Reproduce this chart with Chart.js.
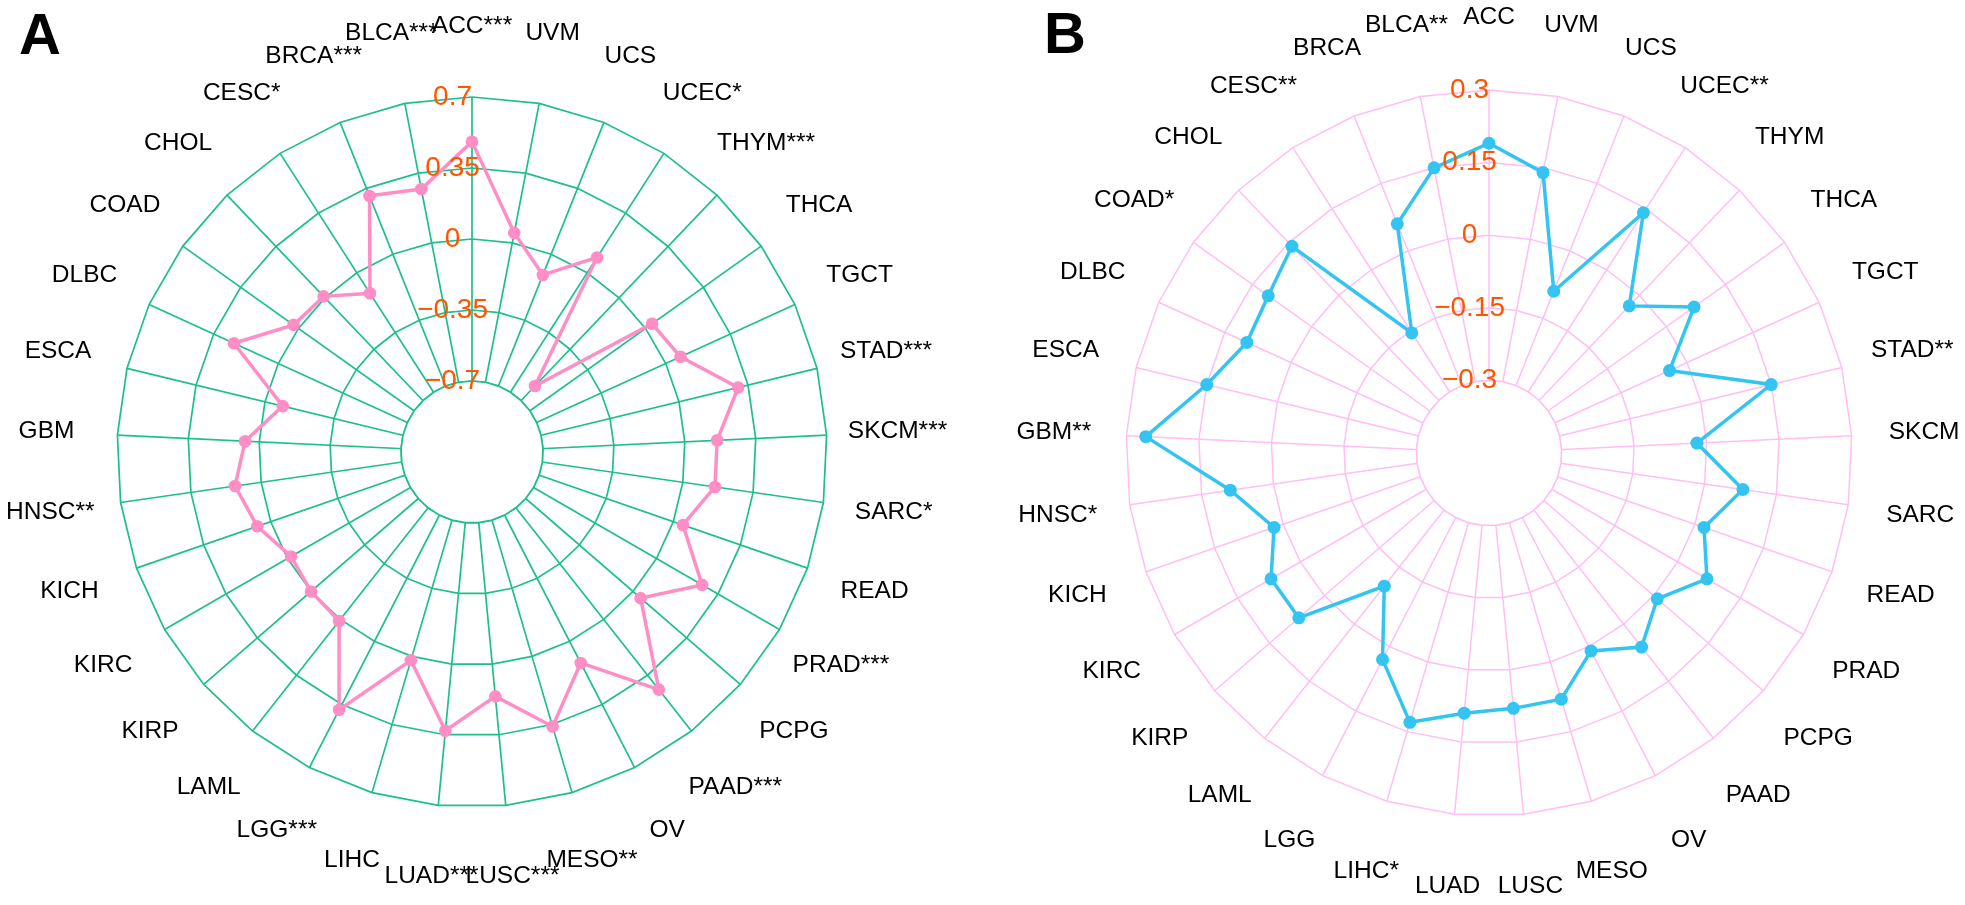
<!DOCTYPE html>
<html>
<head>
<meta charset="utf-8">
<script src="https://cdn.jsdelivr.net/npm/chart.js@4.4.1/dist/chart.umd.min.js"></script>
<style>
  html, body { margin: 0; padding: 0; background: #ffffff; width: 1965px; height: 905px; overflow: hidden; }
  .wrap { position: absolute; top: 0; height: 905px; }
  .tag { position: absolute; font: bold 58px "Liberation Sans", Arial, sans-serif; line-height: 1; color: #000; }
</style>
</head>
<body>
<div class="wrap" style="left:0px;width:982px;"><canvas id="chartA"></canvas></div>
<div class="wrap" style="left:982px;width:983px;"><canvas id="chartB"></canvas></div>
<div class="tag" style="left:19px;top:5px;">A</div>
<div class="tag" style="left:1044px;top:4px;">B</div>
<script>
// ---------- data ----------
const categoriesA = ['ACC***','UVM','UCS','UCEC*','THYM***','THCA','TGCT','STAD***','SKCM***','SARC*','READ','PRAD***','PCPG','PAAD***','OV','MESO**','LUSC***','LUAD***','LIHC','LGG***','LAML','KIRP','KIRC','KICH','HNSC**','GBM','ESCA','DLBC','COAD','CHOL','CESC*','BRCA***','BLCA***'];
const valuesA = [0.48, 0.05, -0.11, 0.09, -0.60, 0.04, 0.08, 0.30, 0.16, 0.16, 0.05, 0.26, 0.05, 0.44, 0.12, 0.36, 0.16, 0.33, 0.02, 0.38, 0.01, 0.00, -0.02, 0.07, 0.13, 0.07, -0.09, 0.24, 0.03, 0.01, -0.12, 0.31, 0.27];
const ticksA = [-0.7, -0.35, 0, 0.35, 0.7];

const categoriesB = ['ACC','UVM','UCS','UCEC**','THYM','THCA','TGCT','STAD**','SKCM','SARC','READ','PRAD','PCPG','PAAD','OV','MESO','LUSC','LUAD','LIHC*','LGG','LAML','KIRP','KIRC','KICH','HNSC*','GBM**','ESCA','DLBC','COAD*','CHOL','CESC**','BRCA','BLCA**'];
const valuesB = [0.19, 0.14, -0.09, 0.14, -0.03, 0.07, -0.04, 0.15, -0.02, 0.08, 0.02, 0.07, 0.01, 0.06, 0.01, 0.08, 0.08, 0.09, 0.13, 0.03, -0.10, 0.07, 0.07, 0.02, 0.09, 0.26, 0.15, 0.10, 0.11, 0.14, -0.155, 0.06, 0.15];
const ticksB = [-0.3, -0.15, 0, 0.15, 0.3];

// ---------- helpers ----------
const TICK_PAD = '     ';
const TICK_SIZE = 28;
function fmtTick(v, ticks) {
  const r = Math.round(v * 1000) / 1000;
  if (r < ticks[0] - 1e-9) return '';
  return (r < 0 ? '\u2212' : '') + Math.abs(r) + TICK_PAD;
}

const radarExtras = {
  id: 'radarExtras',
  beforeDatasetsDraw(chart, args, o) {
    const s = chart.scales.r, ctx = chart.ctx, n = chart.data.labels.length;
    ctx.save();
    ctx.beginPath();
    for (let i = 0; i < n; i++) {
      const p = s.getPointPositionForValue(i, o.hole);
      if (i === 0) ctx.moveTo(p.x, p.y); else ctx.lineTo(p.x, p.y);
    }
    ctx.closePath();
    ctx.fillStyle = '#ffffff';
    ctx.fill();
    ctx.strokeStyle = o.gridColor;
    ctx.lineWidth = o.gridWidth;
    ctx.stroke();
    ctx.restore();
  },
  afterDraw(chart, args, o) {
    const s = chart.scales.r, ctx = chart.ctx, labels = chart.data.labels;
    ctx.save();
    ctx.font = '24.5px "Liberation Sans", Arial, sans-serif';
    ctx.fillStyle = '#000000';
    ctx.textAlign = 'center';
    ctx.textBaseline = 'middle';
    for (let i = 0; i < labels.length; i++) {
      const p = s.getPointPositionForValue(i, o.labelValue);
      ctx.fillText(labels[i], p.x, p.y);
    }
    ctx.restore();
  }
};

function makeRadar(id, labels, values, ticks, cfg) {
  const step = ticks[1] - ticks[0];
  const min = ticks[0] - step;
  const max = ticks[ticks.length - 1];
  return new Chart(document.getElementById(id), {
    type: 'radar',
    data: {
      labels: labels,
      datasets: [{
        data: values,
        borderColor: cfg.lineColor,
        backgroundColor: cfg.lineColor,
        pointBackgroundColor: cfg.lineColor,
        pointBorderColor: cfg.lineColor,
        borderWidth: 3.5,
        pointRadius: cfg.pointRadius,
        pointBorderWidth: 0,
        fill: false,
        tension: 0
      }]
    },
    options: {
      responsive: true,
      maintainAspectRatio: false,
      animation: false,
      layout: { padding: cfg.padding },
      plugins: {
        legend: { display: false },
        tooltip: { enabled: false },
        radarExtras: {
          hole: ticks[0],
          labelValue: max + step,
          gridColor: cfg.gridColor,
          gridWidth: cfg.gridWidth
        }
      },
      scales: {
        r: {
          min: min,
          max: max,
          startAngle: 0,
          grid: { color: cfg.gridColor, lineWidth: cfg.gridWidth, circular: false },
          angleLines: { color: cfg.gridColor, lineWidth: cfg.gridWidth },
          pointLabels: { display: false },
          ticks: {
            stepSize: step,
            z: 1,
            showLabelBackdrop: false,
            backdropPadding: 0,
            color: '#FF5500',
            font: { family: '"Liberation Sans", Arial, sans-serif', size: TICK_SIZE },
            callback: (v) => fmtTick(v, ticks)
          }
        }
      }
    },
    plugins: [radarExtras]
  });
}

// Chart.js insets the radial scale by half the tick font size on every side,
// so the square chart area is 2*radius + TICK_SIZE.
makeRadar('chartA', categoriesA, valuesA, ticksA, {
  lineColor: '#FF8EC6', gridColor: '#1DBF8E', gridWidth: 1.7, pointRadius: 6.3,
  padding: { left: 103.7, right: 140.3, top: 83.5, bottom: 83.5 }
});
makeRadar('chartB', categoriesB, valuesB, ticksB, {
  lineColor: '#33C4F2', gridColor: '#FFBFF2', gridWidth: 1.5, pointRadius: 6.5,
  padding: { left: 130.5, right: 98.5, top: 76.5, bottom: 74.5 }
});
</script>
</body>
</html>
